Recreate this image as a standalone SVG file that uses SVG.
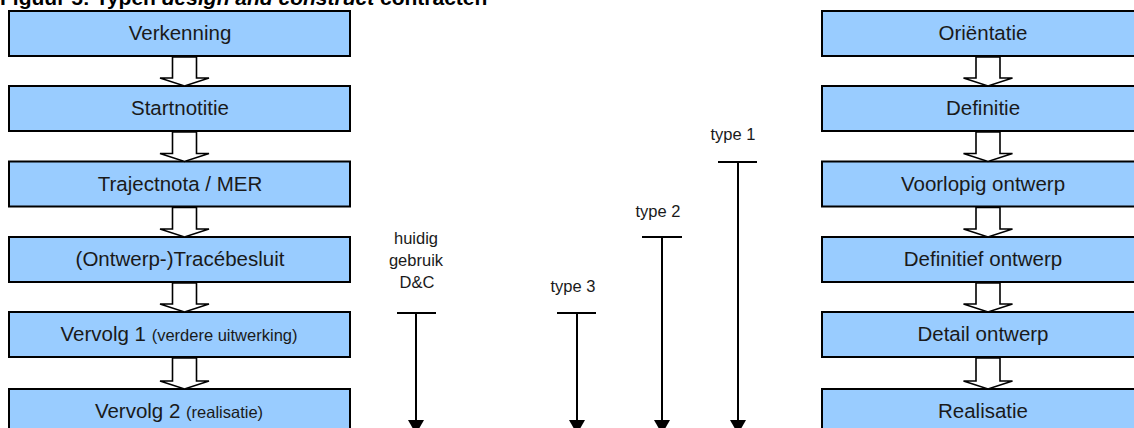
<svg xmlns="http://www.w3.org/2000/svg" width="1134" height="428" viewBox="0 0 1134 428">
<style>
.box{fill:#99CCFF;stroke:#000;stroke-width:2}
.bt{font-family:"Liberation Sans",Arial,sans-serif;font-size:20.5px;fill:#1a1a1a;text-anchor:middle}
.sm{font-size:16.5px}
.lbl{font-family:"Liberation Sans",Arial,sans-serif;font-size:16.5px;fill:#1a1a1a;text-anchor:middle}
.blk{fill:#fff;stroke:#000;stroke-width:1.6;stroke-linejoin:miter}
.ln{stroke:#000;stroke-width:2;fill:none}
.ah{fill:#000}
</style>
<rect width="1134" height="428" fill="#fff"/>
<text x="0" y="5" font-family="Liberation Sans,Arial,sans-serif" font-size="21" font-weight="bold" fill="#000">Figuur 5: Typen <tspan font-style="italic">design and construct</tspan> contracten</text>

<g id="l1"><rect class="box" x="9" y="11" width="341" height="45"/><text class="bt" x="180" y="40">Verkenning</text></g>
<g id="l2"><rect class="box" x="9" y="86" width="341" height="45"/><text class="bt" x="180" y="115">Startnotitie</text></g>
<g id="l3"><rect class="box" x="9" y="161.5" width="341" height="45"/><text class="bt" x="180" y="190.5">Trajectnota / MER</text></g>
<g id="l4"><rect class="box" x="9" y="237" width="341" height="45"/><text class="bt" x="180" y="266">(Ontwerp-)Tracébesluit</text></g>
<g id="l5"><rect class="box" x="9" y="312" width="341" height="45"/><text class="bt" x="179" y="341">Vervolg 1 <tspan class="sm">(verdere uitwerking)</tspan></text></g>
<g id="l6"><rect class="box" x="9" y="389" width="341" height="45"/><text class="bt" x="179" y="418">Vervolg 2 <tspan class="sm">(realisatie)</tspan></text></g>

<g id="r1"><rect class="box" x="822" y="11" width="322" height="45"/><text class="bt" x="983" y="40">Oriëntatie</text></g>
<g id="r2"><rect class="box" x="822" y="86" width="322" height="45"/><text class="bt" x="983" y="115">Definitie</text></g>
<g id="r3"><rect class="box" x="822" y="161.5" width="322" height="45"/><text class="bt" x="983" y="190.5">Voorlopig ontwerp</text></g>
<g id="r4"><rect class="box" x="822" y="237" width="322" height="45"/><text class="bt" x="983" y="266">Definitief ontwerp</text></g>
<g id="r5"><rect class="box" x="822" y="312" width="322" height="45"/><text class="bt" x="983" y="341">Detail ontwerp</text></g>
<g id="r6"><rect class="box" x="822" y="389" width="322" height="45"/><text class="bt" x="983" y="418">Realisatie</text></g>

<g id="labels">
<text class="lbl" x="416" y="244">huidig</text>
<text class="lbl" x="416" y="266">gebruik</text>
<text class="lbl" x="417" y="288">D&amp;C</text>
<text class="lbl" x="573" y="292">type 3</text>
<text class="lbl" x="658" y="217">type 2</text>
<text class="lbl" x="733" y="140">type 1</text>
</g>

<g id="connectors">
<path class="blk" d="M172.5,57 H196.5 V78 H209 L184.5,86 L160,78 H172.5 Z"/>
<path class="blk" d="M172.5,132 H196.5 V153.5 H209 L184.5,161.5 L160,153.5 H172.5 Z"/>
<path class="blk" d="M172.5,207.5 H196.5 V229 H209 L184.5,237 L160,229 H172.5 Z"/>
<path class="blk" d="M172.5,283 H196.5 V304 H209 L184.5,312 L160,304 H172.5 Z"/>
<path class="blk" d="M172.5,358 H196.5 V381 H209 L184.5,389 L160,381 H172.5 Z"/>
<path class="blk" d="M976,57 H1000 V78 H1012.5 L988,86 L963.5,78 H976 Z"/>
<path class="blk" d="M976,132 H1000 V153.5 H1012.5 L988,161.5 L963.5,153.5 H976 Z"/>
<path class="blk" d="M976,207.5 H1000 V229 H1012.5 L988,237 L963.5,229 H976 Z"/>
<path class="blk" d="M976,283 H1000 V304 H1012.5 L988,312 L963.5,304 H976 Z"/>
<path class="blk" d="M976,358 H1000 V381 H1012.5 L988,389 L963.5,381 H976 Z"/>

<path class="ln" d="M397,313 H436 M416,313 V421"/>
<polygon class="ah" points="408,420 424,420 416,434"/>
<path class="ln" d="M557,313 H596 M577,313 V421"/>
<polygon class="ah" points="569,420 585,420 577,434"/>
<path class="ln" d="M642,237 H682 M662,237 V421"/>
<polygon class="ah" points="654,420 670,420 662,434"/>
<path class="ln" d="M718,162 H757 M738,162 V421"/>
<polygon class="ah" points="730,420 746,420 738,434"/>
</g>
</svg>
